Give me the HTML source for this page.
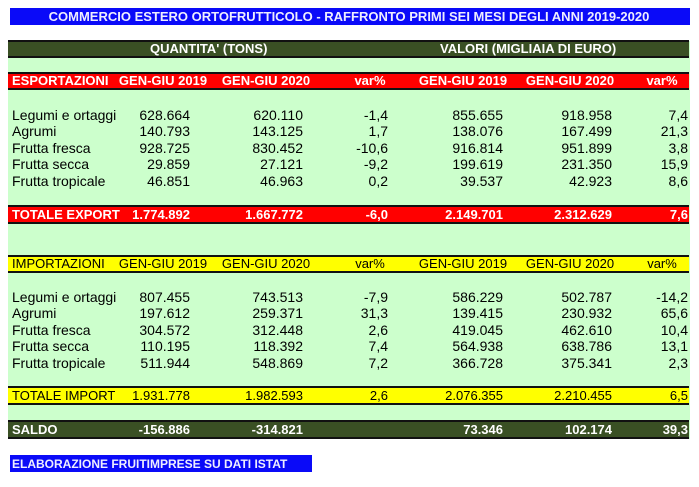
<!DOCTYPE html>
<html><head><style>
body{margin:0;width:699px;height:487px;background:#fff;position:relative;font-family:"Liberation Sans",Arial,sans-serif;overflow:hidden}
.a{position:absolute}
.bar{position:absolute;left:8px;width:681px;box-sizing:border-box;border-top:2px solid #111;border-bottom:2px solid #111}
.t{position:absolute;white-space:nowrap;font-size:13px;line-height:16px}
.d{font-size:14px}
.b{font-weight:bold}
.r{text-align:right}
.w{color:#fff}
</style></head><body>
<div class="a" style="left:10px;top:8px;width:680px;height:17px;background:#0a0af8"></div>
<div class="t b" style="left:10px;top:9px;width:678px;text-align:center;color:#eef;font-size:13px">COMMERCIO ESTERO ORTOFRUTTICOLO - RAFFRONTO PRIMI SEI MESI DEGLI ANNI 2019-2020</div>
<div class="a" style="left:8px;top:41px;width:682px;height:398px;background:#ccffcc"></div>
<div class="bar" style="top:40px;height:18px;background:#3a5024"></div>
<div class="t b w" style="left:150px;top:41px">QUANTITA' (TONS)</div>
<div class="t b w" style="left:440px;top:41px">VALORI (MIGLIAIA DI EURO)</div>

<div class="bar" style="top:72px;height:18px;background:#ff0000"></div>
<div class="bar" style="top:205px;height:19px;background:#ff0000"></div>
<div class="bar" style="top:255px;height:18px;background:#ffff00"></div>
<div class="bar" style="top:386px;height:19px;background:#ffff00"></div>
<div class="bar" style="top:420px;height:19px;background:#3a5024"></div>

<div class="a" style="left:10px;top:455px;width:302px;height:17px;background:#0a0af8"></div>
<div class="t b" style="left:12px;top:456px;color:#eef;font-size:12px">ELABORAZIONE FRUITIMPRESE SU DATI ISTAT</div>

<div id="g"></div>
<script>
var cols=[190,303,388,503,612,688];
function row(y,cells,cls,hdr){
 var h='';
 h+='<div class="t '+cls+'" style="left:12px;top:'+y+'px">'+cells[0]+'</div>';
 for(var i=1;i<cells.length;i++){
  if(hdr){var c=[163,266,370,463,570,662][i-1];
   h+='<div class="t '+cls+'" style="left:'+(c-60)+'px;width:120px;text-align:center;top:'+y+'px">'+cells[i]+'</div>';}
  else h+='<div class="t r '+cls+'" style="left:'+(cols[i-1]-150)+'px;width:150px;top:'+y+'px">'+cells[i]+'</div>';
 }
 return h;
}
var H='';
H+=row(73,['ESPORTAZIONI','GEN-GIU 2019','GEN-GIU 2020','var%','GEN-GIU 2019','GEN-GIU 2020','var%'],'b w',1);
var ex=[['Legumi e ortaggi','628.664','620.110','-1,4','855.655','918.958','7,4'],
['Agrumi','140.793','143.125','1,7','138.076','167.499','21,3'],
['Frutta fresca','928.725','830.452','-10,6','916.814','951.899','3,8'],
['Frutta secca','29.859','27.121','-9,2','199.619','231.350','15,9'],
['Frutta tropicale','46.851','46.963','0,2','39.537','42.923','8,6']];
var ys=[107,123,140,156,173];
for(var i=0;i<5;i++)H+=row(ys[i],ex[i],'d');
H+=row(207,['TOTALE EXPORT','1.774.892','1.667.772','-6,0','2.149.701','2.312.629','7,6'],'b w');
H+=row(256,['IMPORTAZIONI','GEN-GIU 2019','GEN-GIU 2020','var%','GEN-GIU 2019','GEN-GIU 2020','var%'],'',1);
var im=[['Legumi e ortaggi','807.455','743.513','-7,9','586.229','502.787','-14,2'],
['Agrumi','197.612','259.371','31,3','139.415','230.932','65,6'],
['Frutta fresca','304.572','312.448','2,6','419.045','462.610','10,4'],
['Frutta secca','110.195','118.392','7,4','564.938','638.786','13,1'],
['Frutta tropicale','511.944','548.869','7,2','366.728','375.341','2,3']];
var yi=[289,305,322,338,355];
for(var i=0;i<5;i++)H+=row(yi[i],im[i],'d');
H+=row(388,['TOTALE IMPORT','1.931.778','1.982.593','2,6','2.076.355','2.210.455','6,5'],'');
H+=row(422,['SALDO','-156.886','-314.821','','73.346','102.174','39,3'],'b w');
document.getElementById('g').innerHTML=H;
</script>
</body></html>
